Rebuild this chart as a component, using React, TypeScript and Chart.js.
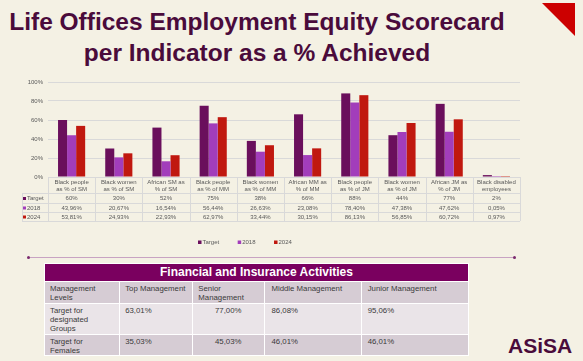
import React, { useEffect, useRef } from "react";
import { Chart, registerables } from "chart.js";

Chart.register(...registerables);

// ---- Data ----
const categories: string[][] = [
  ["Black people", "as % of SM"],
  ["Black women", "as % of SM"],
  ["African SM as", "% of SM"],
  ["Black people", "as % of MM"],
  ["Black women", "as % of MM"],
  ["African MM as", "% of MM"],
  ["Black people", "as % of JM"],
  ["Black women", "as % of JM"],
  ["African JM as", "% of JM"],
  ["Black disabled", "employees"],
];
const seriesNames = ["Target", "2018", "2024"];
const targetValues = [60, 30, 52, 75, 38, 66, 88, 44, 77, 2];
const values2018 = [43.96, 20.67, 16.54, 56.44, 26.63, 23.08, 78.4, 47.38, 47.62, 0.05];
const values2024 = [53.81, 24.93, 22.93, 62.97, 33.44, 30.15, 86.13, 56.85, 60.72, 0.97];
const seriesColors = ["#6A0F5C", "#A23DBB", "#C0180F"];

const tableTitle = "Financial and Insurance Activities";
const tableHeader = ["Management Levels", "Top Management", "Senior Management", "Middle Management", "Junior Management"];
const designatedRow = ["Target for designated Groups", "63,01%", "77,00%", "86,08%", "95,06%"];
const femalesRow = ["Target for Females", "35,03%", "45,03%", "46,01%", "46,01%"];

const FONT = '"Liberation Sans", Arial, sans-serif';
const GREY = "#595959";
const DARK = "#4A0B3B";
const BG = "#F4F1E4";

const fmtTarget = (v: number) => `${v}%`;
const fmtVal = (v: number) => v.toFixed(2).replace(".", ",") + "%";

const tablePlugin = {
  id: "dataTable",
  afterDraw(chart: any) {
    const ctx = chart.ctx as CanvasRenderingContext2D;
    const { left, right, bottom } = chart.chartArea;
    const n = categories.length;
    const w = (right - left) / n;
    const rows = [bottom, bottom + 16, bottom + 26, bottom + 35, bottom + 44];
    const labelLeft = 22;
    const px = (v: number) => Math.round(v) + 0.5;
    ctx.save();
    ctx.strokeStyle = "#D9D9D9";
    ctx.lineWidth = 1;
    ctx.beginPath();
    for (let i = 1; i < rows.length; i++) {
      ctx.moveTo(labelLeft, px(rows[i]));
      ctx.lineTo(right, px(rows[i]));
    }
    for (let k = 0; k <= n; k++) {
      const x = px(left + k * w);
      ctx.moveTo(x, rows[0]);
      ctx.lineTo(x, rows[4]);
    }
    ctx.moveTo(px(labelLeft), rows[1]);
    ctx.lineTo(px(labelLeft), rows[4]);
    ctx.stroke();

    ctx.font = `6px ${FONT}`;
    ctx.fillStyle = GREY;
    ctx.textAlign = "center";
    ctx.textBaseline = "middle";
    const series = [targetValues.map(fmtTarget), values2018.map(fmtVal), values2024.map(fmtVal)];
    for (let k = 0; k < n; k++) {
      const cx = left + (k + 0.5) * w;
      ctx.fillText(categories[k][0], cx, bottom + 5.5);
      ctx.fillText(categories[k][1], cx, bottom + 12);
      for (let s = 0; s < 3; s++) {
        ctx.fillText(series[s][k], cx, (rows[s + 1] + rows[s + 2]) / 2 + 0.5);
      }
    }
    ctx.textAlign = "left";
    for (let s = 0; s < 3; s++) {
      const cy = (rows[s + 1] + rows[s + 2]) / 2 + 0.5;
      ctx.fillStyle = seriesColors[s];
      ctx.fillRect(23, cy - 1.5, 3, 3);
      ctx.fillStyle = GREY;
      ctx.fillText(seriesNames[s], 27, cy);
    }

    // legend
    let x = 198;
    const ly = 172;
    for (let s = 0; s < 3; s++) {
      ctx.fillStyle = seriesColors[s];
      ctx.fillRect(x, ly - 1.5, 3.5, 3.5);
      ctx.fillStyle = GREY;
      ctx.fillText(seriesNames[s], x + 4.5, ly + 0.5);
      x += 4.5 + ctx.measureText(seriesNames[s]).width + 18.5;
    }
    ctx.restore();
  },
};

function BarChart() {
  const ref = useRef<HTMLCanvasElement | null>(null);
  useEffect(() => {
    if (!ref.current) return;
    const chart = new Chart(ref.current, {
      type: "bar",
      data: {
        labels: categories.map((c) => c.join(" ")),
        datasets: [targetValues, values2018, values2024].map((d, i) => ({
          label: seriesNames[i],
          data: d,
          backgroundColor: seriesColors[i],
          borderWidth: 0,
          categoryPercentage: 0.575,
          barPercentage: 1,
        })),
      },
      options: {
        animation: false,
        responsive: false,
        devicePixelRatio: 1,
        layout: { padding: { left: 0, right: 63, top: 12, bottom: 0 } },
        plugins: { legend: { display: false }, tooltip: { enabled: false } },
        scales: {
          x: {
            ticks: { display: false },
            grid: { display: false },
            border: { display: false },
            afterFit: (s: any) => {
              s.height = 78;
            },
          },
          y: {
            min: 0,
            max: 100,
            ticks: {
              stepSize: 10,
              padding: 5,
              color: GREY,
              font: { size: 6, family: FONT },
              callback: (v: any) => `${v}%`,
            },
            grid: { color: "#D9D9D9", drawTicks: false, lineWidth: 1 },
            border: { display: false },
            afterFit: (s: any) => {
              s.width = 48;
            },
          },
        },
      },
      plugins: [tablePlugin],
    } as any);
    return () => chart.destroy();
  }, []);
  return (
    <canvas
      ref={ref}
      width={583}
      height={185}
      style={{ position: "absolute", left: 0, top: 70, width: 583, height: 185 }}
    />
  );
}

const cellBase: React.CSSProperties = {
  border: "1px solid #FFFFFF",
  padding: "2px 4px 0 5px",
  verticalAlign: "top",
  textAlign: "left",
  fontSize: "7.8px",
  lineHeight: "9px",
  color: "#3A3A3A",
  fontFamily: FONT,
};

function InfoTable() {
  const widths = [75, 73, 72, 96, 107];
  const rowStyles = [
    { bg: "#D6CCD4", h: 22 },
    { bg: "#EAE4E8", h: 31 },
    { bg: "#D6CCD4", h: 21 },
  ];
  const rows = [tableHeader, designatedRow, femalesRow];
  return (
    <table
      style={{
        position: "absolute",
        left: 44,
        top: 263,
        width: 425,
        borderCollapse: "collapse",
        tableLayout: "fixed",
      }}
    >
      <colgroup>
        {widths.map((w, i) => (
          <col key={i} style={{ width: w }} />
        ))}
      </colgroup>
      <tbody>
        <tr style={{ height: 18 }}>
          <td
            colSpan={5}
            style={{
              ...cellBase,
              background: "#7A005F",
              color: "#FFFFFF",
              fontWeight: "bold",
              fontSize: "12px",
              lineHeight: "14px",
              textAlign: "center",
              verticalAlign: "middle",
              padding: "0 0 1px 0",
            }}
          >
            {tableTitle}
          </td>
        </tr>
        {rows.map((r, ri) => (
          <tr key={ri} style={{ height: rowStyles[ri].h }}>
            {r.map((c, ci) => {
              const isRightCol = ci === 2 && ri > 0;
              return (
                <td
                  key={ci}
                  style={{
                    ...cellBase,
                    background: rowStyles[ri].bg,
                    textAlign: isRightCol ? "right" : "left",
                    paddingRight: isRightCol ? 23 : ci === 0 ? 12 : 4,
                    paddingLeft: ci === 3 || ci === 4 ? 6 : 5,
                  }}
                >
                  {c}
                </td>
              );
            })}
          </tr>
        ))}
      </tbody>
    </table>
  );
}

export default function App() {
  return (
    <div
      style={{
        position: "fixed",
        left: 0,
        top: 0,
        width: 583,
        height: 361,
        background: BG,
        overflow: "hidden",
        fontFamily: FONT,
      }}
    >
      <div
        style={{
          position: "absolute",
          left: 0,
          top: 6,
          width: 514,
          textAlign: "center",
          fontWeight: "bold",
          fontSize: "24.5px",
          lineHeight: "31px",
          color: DARK,
          whiteSpace: "nowrap",
        }}
      >
        Life Offices Employment Equity Scorecard
        <br />
        per Indicator as a % Achieved
      </div>
      <div
        style={{
          position: "absolute",
          left: 542,
          top: 3,
          width: 33,
          height: 33,
          background: "#CC0000",
          clipPath: "polygon(0 0, 100% 0, 100% 100%)",
        }}
      />
      <BarChart />
      <div
        style={{
          position: "absolute",
          left: 28,
          top: 257,
          width: 487,
          height: 1,
          background: "#C8A3C2",
        }}
      />
      <div style={{ position: "absolute", left: 27, top: 256, width: 3, height: 3, borderRadius: 2, background: "#7B2A6E" }} />
      <div style={{ position: "absolute", left: 513, top: 256, width: 3, height: 3, borderRadius: 2, background: "#7B2A6E" }} />
      <InfoTable />
      <div
        style={{
          position: "absolute",
          left: 508,
          top: 335,
          fontWeight: "bold",
          fontSize: "21px",
          lineHeight: "21px",
          color: DARK,
          whiteSpace: "nowrap",
        }}
      >
        ASiSA
      </div>
    </div>
  );
}
